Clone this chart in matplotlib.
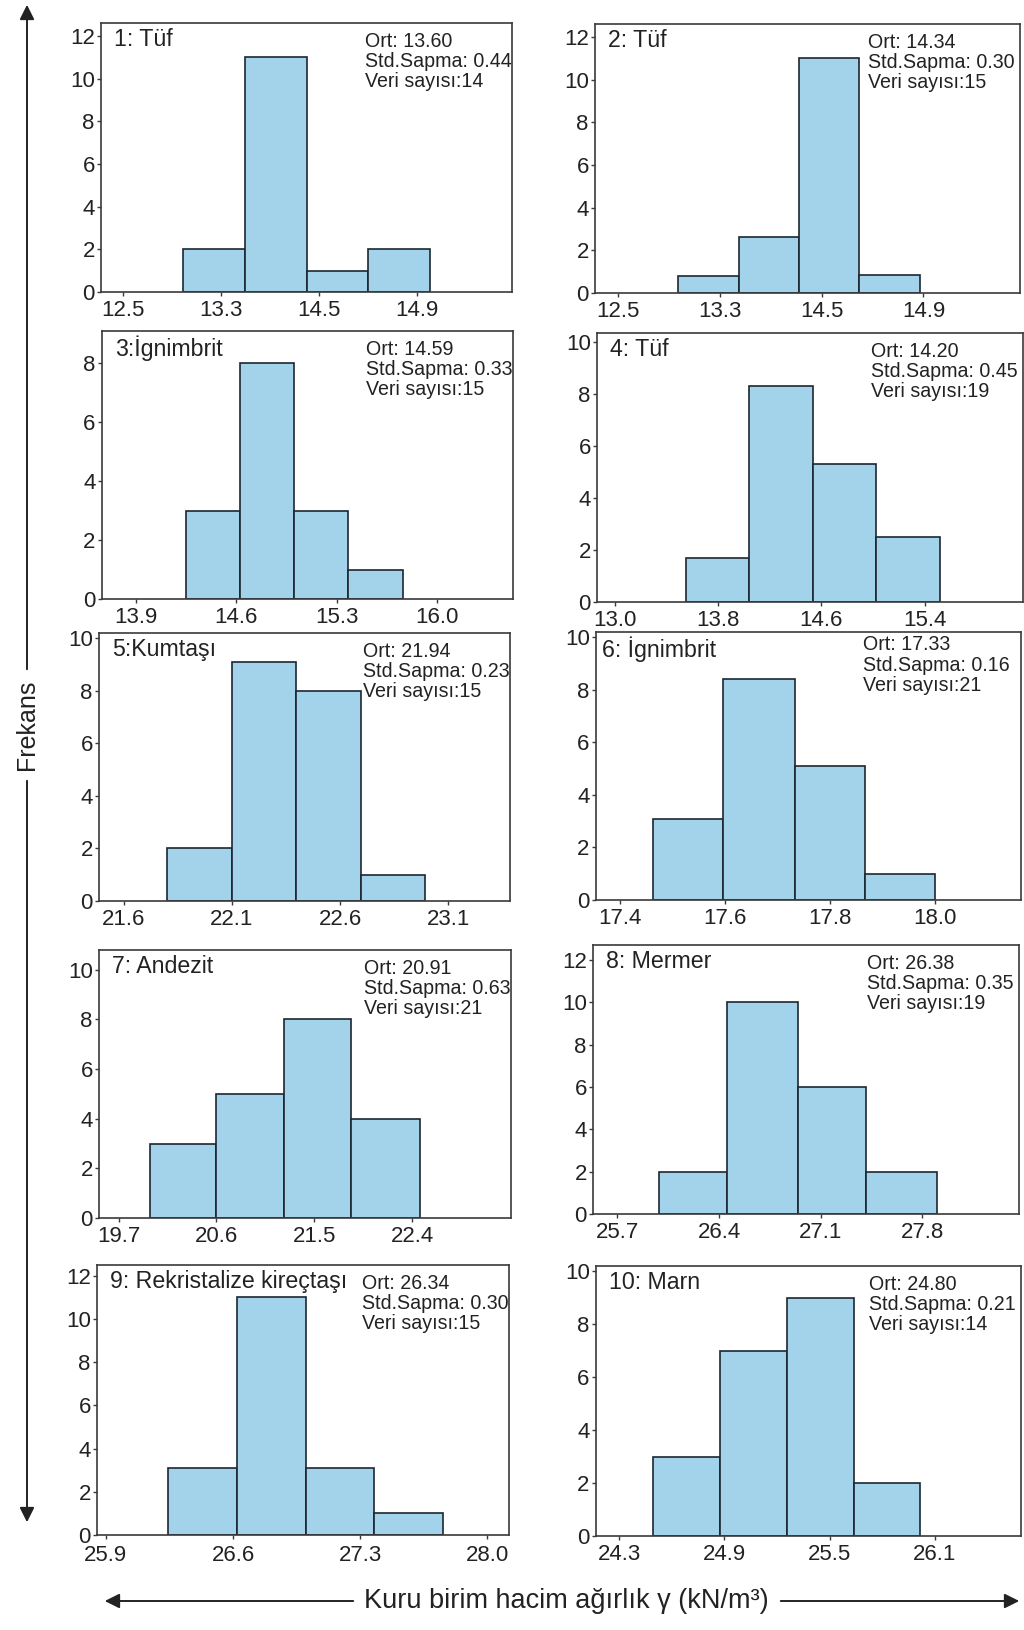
import numpy as np
import matplotlib.pyplot as plt

plt.rcParams['font.family'] = ['Liberation Sans', 'DejaVu Sans']

# --- data ---
titles = ['1: Tüf', '2: Tüf', '3:İgnimbrit', '4: Tüf', '5:Kumtaşı',
          '6: İgnimbrit', '7: Andezit', '8: Mermer',
          '9: Rekristalize kireçtaşı', '10: Marn']
ort = ['13.60', '14.34', '14.59', '14.20', '21.94',
       '17.33', '20.91', '26.38', '26.34', '24.80']
std = ['0.44', '0.30', '0.33', '0.45', '0.23',
       '0.16', '0.63', '0.35', '0.30', '0.21']
veri = [14, 15, 15, 19, 15, 21, 21, 19, 15, 14]

x_labels = [
    ['12.5', '13.3', '14.5', '14.9'],
    ['12.5', '13.3', '14.5', '14.9'],
    ['13.9', '14.6', '15.3', '16.0'],
    ['13.0', '13.8', '14.6', '15.4'],
    ['21.6', '22.1', '22.6', '23.1'],
    ['17.4', '17.6', '17.8', '18.0'],
    ['19.7', '20.6', '21.5', '22.4'],
    ['25.7', '26.4', '27.1', '27.8'],
    ['25.9', '26.6', '27.3', '28.0'],
    ['24.3', '24.9', '25.5', '26.1'],
]
# bin edges measured in tick slots (the four labels sit at 0, 1, 2, 3)
bin_edges = [
    [0.62, 1.245, 1.88, 2.50, 3.13],
    [0.59, 1.19, 1.78, 2.37, 2.97],
    [0.50, 1.04, 1.58, 2.11, 2.66],
    [0.69, 1.30, 1.92, 2.53, 3.15],
    [0.40, 1.00, 1.59, 2.19, 2.78],
    [0.31, 0.98, 1.67, 2.33, 3.00],
    [0.32, 1.00, 1.69, 2.38, 3.08],
    [0.41, 1.08, 1.78, 2.45, 3.14],
    [0.49, 1.03, 1.57, 2.11, 2.65],
    [0.32, 0.96, 1.60, 2.23, 2.86],
]
counts = [
    [2, 11, 1, 2],
    [0.8, 2.6, 11, 0.85],
    [3, 8, 3, 1],
    [1.7, 8.3, 5.3, 2.5],
    [2, 9.1, 8, 1],
    [3.1, 8.4, 5.1, 1.0],
    [3, 5, 8, 4],
    [2, 10, 6, 2],
    [3.1, 11, 3.1, 1],
    [3, 7, 9, 2],
]
y_top = [12, 12, 8, 10, 10, 10, 10, 12, 12, 10]

# --- layout (pixels: left, right, top, bottom) ---
W, H = 1024, 1630
boxes = [
    (101, 512, 23, 292), (595, 1020, 24, 293),
    (102, 513, 331, 599), (597, 1023, 333, 602),
    (99, 510, 633, 901), (596, 1021, 632, 900),
    (99, 511, 950, 1218), (593, 1019, 945, 1214),
    (97, 509, 1265, 1535), (596, 1021, 1266, 1536),
]
xlims = [(-0.22, 3.97), (-0.23, 3.95), (-0.34, 3.76), (-0.17, 3.95),
         (-0.23, 3.57), (-0.23, 3.82), (-0.20, 4.01), (-0.24, 3.95),
         (-0.07, 3.17), (-0.22, 3.82)]
ylims = [12.6, 12.6, 9.1, 10.36, 10.2, 10.2, 10.8, 12.7, 12.5, 10.2]

fill = '#a3d3eb'
edge = '#1c2630'
frame = '#3a3a3a'
ink = '#222222'

fig = plt.figure(figsize=(W / 100, H / 100), dpi=100)

# overlay for the arrows and shared labels, in pixel units
bg = fig.add_axes([0, 0, 1, 1])
bg.set_xlim(0, W)
bg.set_ylim(H, 0)
bg.axis('off')

arrow = dict(arrowstyle='-|>', color=ink, lw=1.4, mutation_scale=22)
bg.annotate('', xy=(27, 2), xytext=(27, 672), arrowprops=arrow)
bg.annotate('', xy=(27, 1525), xytext=(27, 778), arrowprops=arrow)
bg.text(27, 725, 'Frekans', rotation=90, ha='center', va='center',
        fontsize=18, color=ink)
bg.annotate('', xy=(102, 1601), xytext=(356, 1601), arrowprops=arrow)
bg.annotate('', xy=(1022, 1601), xytext=(778, 1601), arrowprops=arrow)
bg.text(566, 1601, 'Kuru birim hacim ağırlık γ (kN/m³)', ha='center',
        va='center', fontsize=19.5, color=ink)

for i in range(10):
    l, r, t, b = boxes[i]
    ax = fig.add_axes([l / W, 1 - b / H, (r - l) / W, (b - t) / H])
    e = np.array(bin_edges[i])
    ax.bar(e[:-1], counts[i], width=np.diff(e), align='edge',
           color=fill, edgecolor=edge, linewidth=1.2)
    ax.set_xlim(*xlims[i])
    ax.set_ylim(0, ylims[i])
    ax.set_xticks(range(4))
    ax.set_xticklabels(x_labels[i])
    ax.set_yticks(range(0, y_top[i] + 1, 2))
    ax.tick_params(length=3, width=1, labelsize=16,
                   color=frame, labelcolor=ink)
    ax.tick_params(axis='y', pad=1.5)
    ax.tick_params(axis='x', pad=4 if i == 8 else 2.5)
    for s in ax.spines.values():
        s.set_color(frame)
        s.set_linewidth(1.2)

    tdx = 4.5 if i == 5 else 9.5
    ax.annotate(titles[i], xy=(0, 1), xycoords='axes fraction',
                xytext=(tdx, -3.5), textcoords='offset points',
                ha='left', va='top', fontsize=16.7, color=ink)
    sx = 0.628 if i == 5 else 0.643
    sy = -2.5 if i == 5 else -6.5
    ax.annotate('Ort: %s\nStd.Sapma: %s\nVeri sayısı:%d' % (ort[i], std[i], veri[i]),
                xy=(sx, 1), xycoords='axes fraction',
                xytext=(0, sy), textcoords='offset points',
                ha='left', va='top', fontsize=14.1, linespacing=1.07,
                color=ink)

fig.savefig('out.png', dpi=100)
